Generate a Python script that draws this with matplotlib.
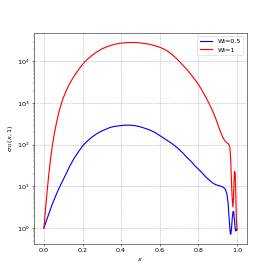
import matplotlib
matplotlib.use("Agg")
import matplotlib.pyplot as plt

# ── DATA ──────────────────────────────────────────────────────────
x_wi05 = [0.000, 0.010, 0.020, 0.030, 0.040, 0.050, 0.060, 0.070, 0.080, 0.090,
          0.100, 0.115, 0.130, 0.145, 0.160, 0.180, 0.200, 0.220, 0.240, 0.260,
          0.280, 0.300, 0.320, 0.340, 0.360, 0.380, 0.400, 0.420, 0.440, 0.460,
          0.480, 0.500, 0.520, 0.540, 0.560, 0.580, 0.600, 0.620, 0.640, 0.660,
          0.680, 0.700, 0.720, 0.740, 0.760, 0.780, 0.800, 0.820, 0.840, 0.860,
          0.875, 0.890, 0.905, 0.920, 0.930, 0.940, 0.948, 0.954, 0.960, 0.965,
          0.968, 0.972, 0.976, 0.980, 0.983, 0.987, 0.991, 0.994, 0.997, 1.000]
y_wi05 = [1.0, 1.38, 1.86, 2.51, 3.39, 4.47, 5.75, 7.41, 9.33, 11.7,
          14.5, 20, 28.2, 38, 50, 69, 93, 117, 141, 166,
          191, 214, 234, 257, 272, 282, 288, 295, 295, 292,
          282, 269, 251, 234, 214, 191, 166, 145, 126, 110,
          93, 78, 63, 50, 41, 32, 26, 21, 16.6, 13.8,
          12, 11, 10.5, 10, 9.5, 8.5, 6.6, 4.0, 1.6, 0.76,
          0.71, 1.0, 1.8, 2.5, 2.5, 1.6, 0.95, 0.85, 0.89, 0.95]

x_wi1 = [0.000, 0.005, 0.010, 0.015, 0.020, 0.025, 0.030, 0.035, 0.040, 0.045,
         0.050, 0.055, 0.060, 0.070, 0.080, 0.090, 0.100, 0.115, 0.130, 0.150,
         0.170, 0.190, 0.210, 0.230, 0.250, 0.275, 0.300, 0.325, 0.350, 0.375,
         0.400, 0.430, 0.460, 0.490, 0.520, 0.550, 0.580, 0.600, 0.620, 0.640,
         0.660, 0.680, 0.700, 0.720, 0.740, 0.760, 0.780, 0.800, 0.820, 0.840,
         0.860, 0.875, 0.890, 0.900, 0.910, 0.920, 0.930, 0.940, 0.950, 0.958,
         0.963, 0.967, 0.971, 0.975, 0.979, 0.982, 0.985, 0.988, 0.991, 0.994,
         0.997, 1.000]
y_wi1 = [1.0, 1.9, 3.5, 6.3, 11, 18.6, 30, 48, 72, 105,
         145, 195, 257, 427, 660, 955, 1320, 1950, 2750, 3980,
         5500, 7400, 9550, 11750, 14100, 17000, 19950, 22400, 24500, 26300,
         27500, 28200, 28500, 28200, 26900, 25700, 23400, 21900, 19950, 17800,
         15100, 12600, 10200, 8100, 6460, 5000, 3800, 2820, 2000, 1350,
         890, 630, 427, 316, 234, 178, 141, 120, 110, 102,
         89, 50, 16, 5.6, 3.2, 5.0, 14, 23, 20, 6.3,
         1.6, 0.9]

# ── PLOT ──────────────────────────────────────────────────────────
fig, ax = plt.subplots(figsize=(6, 6), dpi=274 / 6)

ax.plot(x_wi05, y_wi05, color="blue", linewidth=1.8, label="Wi=0.5")
ax.plot(x_wi1, y_wi1, color="red", linewidth=1.8, label="Wi=1")

ax.set_yscale("log")
ax.set_xlabel("$x$")
ax.set_ylabel(r"$\sigma_{11}(x, 1)$")
ax.grid(True, which="major", linestyle="--", color="gray", alpha=0.6)
ax.legend(loc="upper right")

fig.savefig("out.png", dpi=274 / 6)
